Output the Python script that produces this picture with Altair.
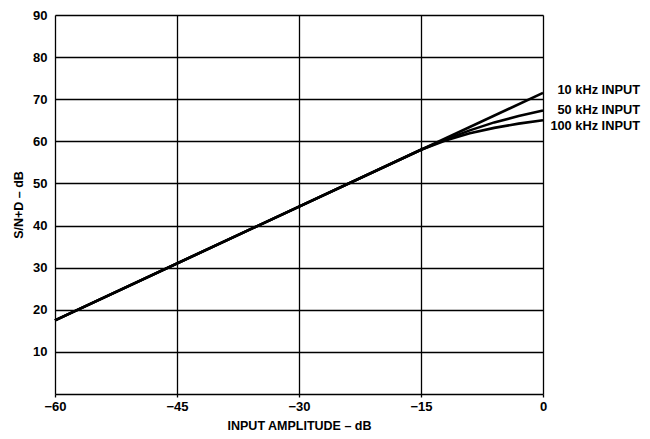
import altair as alt
import pandas as pd

# 10 kHz input: straight line
x10 = [-60, 0]
y10 = [17.5, 71.5]
# 50 kHz input
x50 = [-60, -15, -12, -9, -6, -3, 0]
y50 = [17.5, 58.0, 60.4, 62.6, 64.5, 66.0, 67.3]
# 100 kHz input
x100 = [-60, -15, -12, -9, -6, -3, 0]
y100 = [17.5, 58.0, 60.2, 61.9, 63.2, 64.2, 65.0]

label_text = ["10 kHz INPUT", "50 kHz INPUT", "100 kHz INPUT"]
label_y = [72.3, 67.5, 63.6]

x_ticks = [-60, -45, -30, -15, 0]
y_grid = [0, 10, 20, 30, 40, 50, 60, 70, 80, 90]

rows = []
for name, xs, ys in [("10k", x10, y10), ("50k", x50, y50), ("100k", x100, y100)]:
    for a, b in zip(xs, ys):
        rows.append({"series": name, "x": a, "y": b})
df = pd.DataFrame(rows)
lab = pd.DataFrame({"text": label_text, "y": label_y, "x": [0, 0, 0]})

FONT = "Liberation Sans"
W, H = 488, 379

xscale = alt.Scale(domain=[-60, 0], nice=False, zero=False)
yscale = alt.Scale(domain=[0, 90], nice=False)

lines = alt.Chart(df).mark_line(color="black", strokeWidth=2.6).encode(
    x=alt.X("x:Q", scale=xscale,
            axis=alt.Axis(values=x_ticks, title="INPUT AMPLITUDE – dB", grid=True,
                          gridColor="black", gridOpacity=1, gridWidth=1.3,
                          domain=False, tickColor="black", tickSize=3, tickWidth=1.3,
                          labelFont=FONT, labelFontWeight="bold", labelFontSize=13,
                          labelColor="black", labelPadding=3, labelFlush=False,
                          titleFont=FONT, titleFontWeight="bold", titleFontSize=12.5,
                          titleColor="black", titlePadding=6)),
    y=alt.Y("y:Q", scale=yscale,
            axis=alt.Axis(values=y_grid, title="S/N+D – dB", grid=True,
                          gridColor="black", gridOpacity=1, gridWidth=1.3,
                          domain=False, ticks=False,
                          labelExpr="datum.value == 0 ? '' : datum.label",
                          labelFont=FONT, labelFontWeight="bold", labelFontSize=13,
                          labelColor="black", labelPadding=8, labelFlush=False,
                          titleFont=FONT, titleFontWeight="bold", titleFontSize=12.5,
                          titleColor="black", titlePadding=7)),
    detail="series:N",
)

labels = alt.Chart(lab).mark_text(align="right", baseline="middle", dx=97,
                                  font=FONT, fontWeight="bold", fontSize=12.8,
                                  color="black").encode(
    x=alt.X("x:Q", scale=xscale),
    y=alt.Y("y:Q", scale=yscale),
    text="text:N",
)

chart = alt.layer(lines, labels).properties(
    width=W, height=H,
    autosize=alt.AutoSizeParams(type="none"),
    padding={"left": 47, "top": 7, "right": 99, "bottom": 40},
).configure_view(stroke="black", strokeWidth=3).configure(background="white")

chart.save("out.html", embed_options={"renderer": "svg", "actions": False})
